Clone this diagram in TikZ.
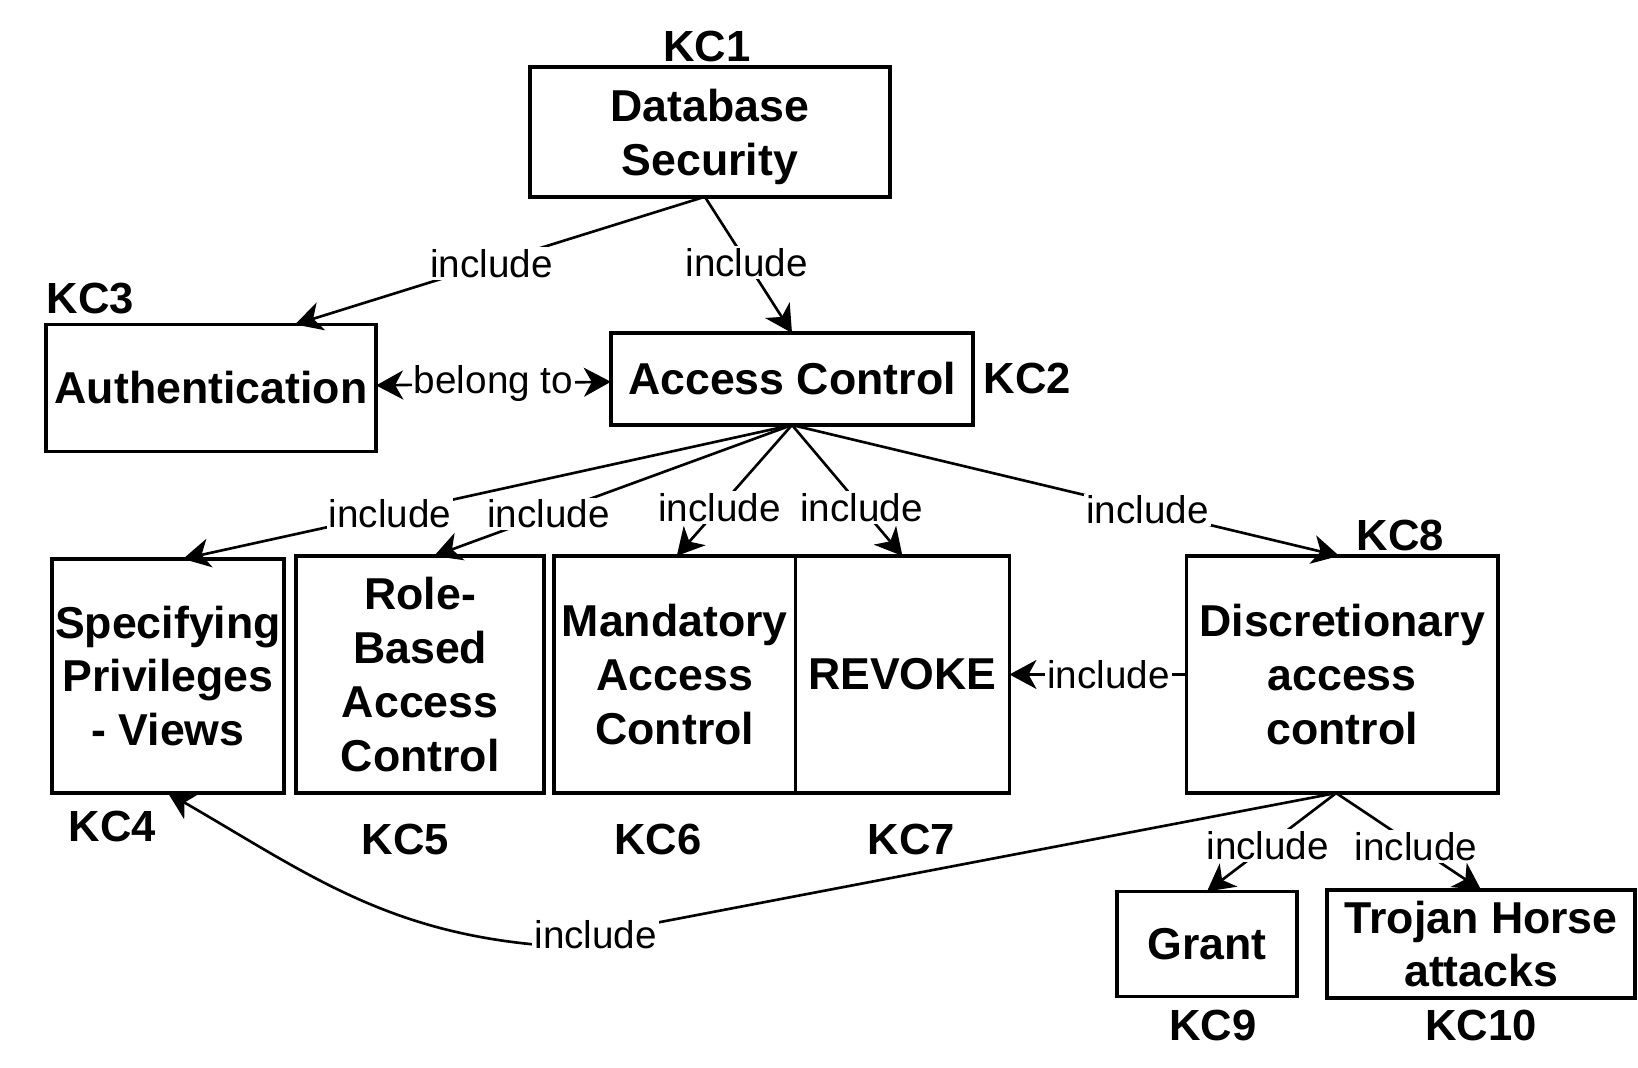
\documentclass[tikz,border=0pt]{standalone}
\usepackage{fontspec}
\setmainfont{Liberation Sans}
\usetikzlibrary{arrows.meta, positioning}

\begin{document}
\begin{tikzpicture}[
    x=0.01cm, y=0.01cm,
    concept/.style={draw, line width=1pt, inner sep=0pt, outer sep=0pt, align=center, font=\fontsize{12.7}{15.3}\selectfont\bfseries},
    kc/.style={inner sep=0pt, font=\fontsize{12.4}{15}\selectfont\bfseries},
    lbl/.style={fill=white, inner sep=0.6pt, font=\fontsize{11}{13}\selectfont},
    arr/.style={-{Stealth[length=0.27cm, width=0.29cm, inset=0.08cm]}, line width=0.75pt},
    arrs/.style={{Stealth[length=0.27cm, width=0.29cm, inset=0.08cm]}-{Stealth[length=0.27cm, width=0.29cm, inset=0.08cm]}, line width=0.75pt},
  ]
  \useasboundingbox (0,0) rectangle (1638,-1068);
  \node[concept, minimum width=3.6cm, minimum height=1.3cm, text depth=0pt] (dbs) at (710,-132) {Database\\Security};
  \node[kc, above=0.04cm of dbs, xshift=-0.03cm] (kc1) {KC1};
  \node[concept, minimum width=3.3cm, minimum height=1.27cm] (auth) at (211,-388) {Authentication};
  \node[kc, above right=0.1cm and 0cm of auth.north west] (kc3) {KC3};
  \node[concept, minimum width=3.62cm, minimum height=0.92cm] (acc) at (792,-379) {Access Control};
  \node[kc, right=0.1cm of acc] (kc2) {KC2};
  \node[concept, minimum width=2.32cm, minimum height=2.34cm] (spv) at (168,-676) {Specifying\\Privileges\\- Views};
  \node[concept, minimum width=2.48cm, minimum height=2.37cm, right=0.12cm of spv.south east, anchor=south west] (rba) {Role-\\Based\\Access\\Control};
  \node[concept, minimum width=2.41cm, minimum height=2.37cm, right=0.1cm of rba] (mac) {Mandatory\\Access\\Control};
  \node[concept, minimum width=2.14cm, minimum height=2.37cm, right=0cm of mac] (rev) {REVOKE};
  \node[concept, minimum width=3.11cm, minimum height=2.37cm, right=1.77cm of rev] (dac) {Discretionary\\access\\control};
  \node[concept, minimum width=1.8cm, minimum height=1.05cm] (grt) at (1207,-944) {Grant};
  \node[concept, minimum width=3.08cm, minimum height=1.08cm, right=0.3cm of grt] (thA) {Trojan Horse\\attacks};
  \node[kc, below right=0.175cm and 0.16cm of spv.south west] (kc4) {KC4};
  \node[kc, below=0.3cm of rba, xshift=-0.15cm] (kc5) {KC5};
  \node[kc, below=0.3cm of mac, xshift=-0.17cm] (kc6) {KC6};
  \node[kc, below=0.3cm of rev, xshift=0.09cm] (kc7) {KC7};
  \node[kc, above=0.04cm of dac, xshift=0.58cm] (kc8) {KC8};
  \node[kc, below=0.13cm of grt, xshift=0.06cm] (kc9) {KC9};
  \node[kc, below=0.11cm of thA] (kc10) {KC10};

  \draw[arr] ([xshift=-0.06cm]dbs.south) -- node[lbl, pos=0.52]{include} ([xshift=0.84cm]auth.north);
  \draw[arr] ([xshift=-0.05cm]dbs.south) -- node[lbl, pos=0.48]{include} (acc.north);
  \draw[arrs] (auth) -- node[lbl]{belong to} (acc);
  \foreach \b/\s/\q in {spv/0.15cm/0.66, rba/0.14cm/0.68, mac/0.02cm/0.63, rev/0cm/0.63, dac/-0.03cm/0.65}
    \draw[arr] (acc.south) -- node[lbl, pos=\q]{include} ([xshift=\s]\b.north);
  \draw[arr] (dac) -- node[lbl, pos=0.44]{include} (rev);
  \coordinate (dacb) at ([xshift=-0.06cm]dac.south);
  \draw[arr] (dacb) -- node[lbl, pos=0.53]{include} (grt.north);
  \draw[arr] (dacb) -- node[lbl, pos=0.55]{include} (thA.north);
  \coordinate (bend) at (540,-945);
  \draw[arr] (dacb) -- node[lbl, pos=0.93]{include} (bend) to[out=175, in=-30] (spv.south);
\end{tikzpicture}
\end{document}
